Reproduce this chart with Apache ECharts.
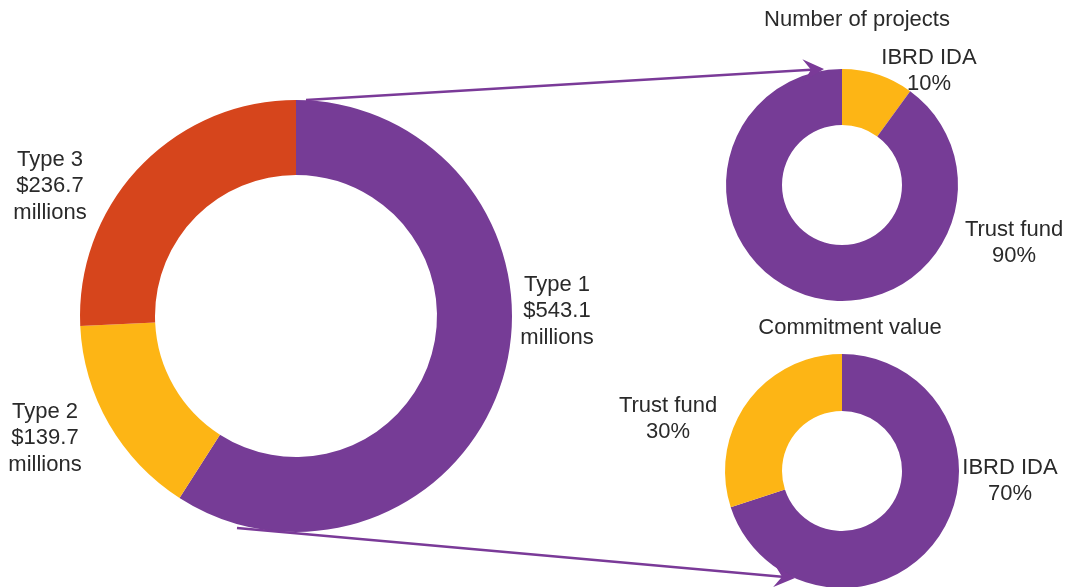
<!DOCTYPE html>
<html>
<head>
    <meta charset="utf-8">
    <title>Projects by type</title>
    <script src="https://cdn.jsdelivr.net/npm/echarts@6/dist/echarts.min.js"></script>
</head>
<body style="margin:0;background:#fff;">

<div id="main" style="width: 1074px;height:587px;"></div>

<script type="text/javascript">

    // main donut
    var typeNames = ['Type 1', 'Type 2', 'Type 3'];
    var typeValues = [543.1, 139.7, 236.7];

    // number of projects
    var projNames = ['IBRD IDA', 'Trust fund'];
    var projValues = [10, 90];

    // commitment value
    var commitNames = ['IBRD IDA', 'Trust fund'];
    var commitValues = [70, 30];

    var purple = '#763c96';
    var yellow = '#fdb515';
    var red = '#d6451c';
    var textColor = '#2a2a2a';
    var font = 'Liberation Sans, Arial, sans-serif';

    var myChart = echarts.init(document.getElementById('main'));

    // colours set per item, pie palette otherwise gets shared by name
    function toData(names, values, colors) {
        return names.map(function (n, i) {
            return {name: n, value: values[i], itemStyle: {color: colors[i]}};
        });
    }

    function label(x, y, lines) {
        return {
            type: 'text',
            x: x,
            y: y,
            z: 10,
            style: {
                text: lines.join('\n'),
                fill: textColor,
                font: '22px ' + font,
                lineHeight: 26.5,
                align: 'center',
                verticalAlign: 'middle'
            }
        };
    }

    // arrow: straight line plus a stealth-style head
    function arrow(x1, y1, x2, y2) {
        var dx = x2 - x1, dy = y2 - y1;
        var len = Math.sqrt(dx * dx + dy * dy);
        var ux = dx / len, uy = dy / len;
        var nx = -uy, ny = ux;
        var bx = x2 - 21 * ux, by = y2 - 21 * uy;
        var kx = x2 - 13 * ux, ky = y2 - 13 * uy;
        return [
            {
                type: 'line',
                z: 10,
                shape: {x1: x1, y1: y1, x2: kx, y2: ky},
                style: {stroke: '#7a3a98', lineWidth: 2.5}
            },
            {
                type: 'polygon',
                z: 10,
                shape: {points: [[x2, y2], [bx + 11 * nx, by + 11 * ny], [kx, ky], [bx - 11 * nx, by - 11 * ny]]},
                style: {fill: '#7a3a98'}
            }
        ];
    }

    var pieBase = {
        type: 'pie',
        startAngle: 90,
        clockwise: true,
        silent: true,
        label: {show: false},
        labelLine: {show: false},
        itemStyle: {borderWidth: 0}
    };

    var graphics = [];
    graphics.push(label(50, 186, [typeNames[2], '$' + typeValues[2].toFixed(1), 'millions']));
    graphics.push(label(45, 438, [typeNames[1], '$' + typeValues[1].toFixed(1), 'millions']));
    graphics.push(label(557, 311, [typeNames[0], '$' + typeValues[0].toFixed(1), 'millions']));
    graphics.push(label(857, 20, ['Number of projects']));
    graphics.push(label(929, 71, [projNames[0], projValues[0] + '%']));
    graphics.push(label(1014, 243, [projNames[1], projValues[1] + '%']));
    graphics.push(label(850, 328, ['Commitment value']));
    graphics.push(label(668, 419, [commitNames[1], commitValues[1] + '%']));
    graphics.push(label(1010, 481, [commitNames[0], commitValues[0] + '%']));
    graphics = graphics.concat(arrow(306, 100, 824, 69));
    graphics = graphics.concat(arrow(237, 528, 795, 578));

    var option = {
        animation: false,
        backgroundColor: '#ffffff',
        graphic: graphics,
        series: [
            Object.assign({}, pieBase, {
                center: [296, 316],
                radius: [141, 216],
                data: toData(typeNames, typeValues, [purple, yellow, red])
            }),
            Object.assign({}, pieBase, {
                center: [842, 185],
                radius: [60, 116],
                data: toData(projNames, projValues, [yellow, purple])
            }),
            Object.assign({}, pieBase, {
                center: [842, 471],
                radius: [60, 117],
                data: toData(commitNames, commitValues, [purple, yellow])
            })
        ]
    };

    myChart.setOption(option);

</script>
</body>
</html>
